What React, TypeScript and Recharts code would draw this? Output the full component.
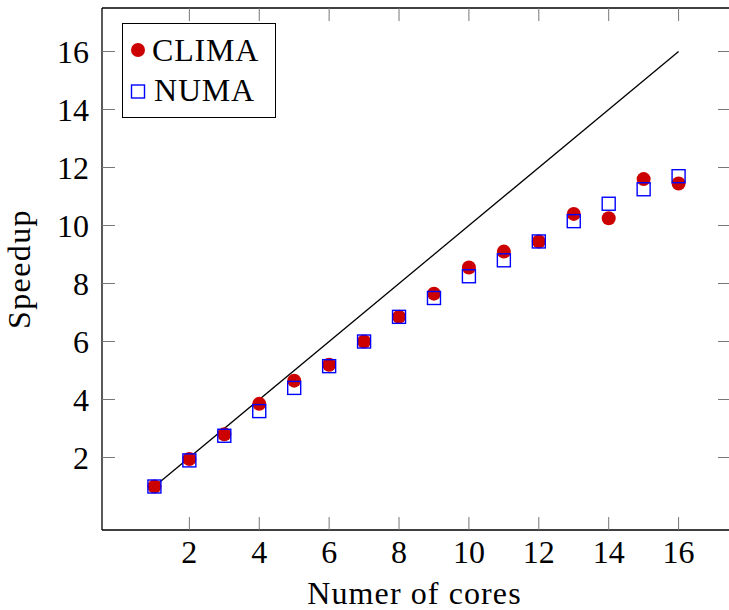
import { Label, Scatter, ScatterChart, XAxis, YAxis } from "recharts"

const cores = [1, 2, 3, 4, 5, 6, 7, 8, 9, 10, 11, 12, 13, 14, 15, 16]
const climaSpeedup = [1.0, 1.95, 2.8, 3.85, 4.65, 5.2, 6.0, 6.85, 7.65, 8.55, 9.1, 9.45, 10.4, 10.25, 11.6, 11.45]
const numaSpeedup = [1.0, 1.9, 2.75, 3.6, 4.4, 5.15, 6.0, 6.85, 7.5, 8.25, 8.8, 9.45, 10.15, 10.75, 11.25, 11.7]
const idealCores = [1, 16]
const idealSpeedup = [1, 16]
const xTicks = [2, 4, 6, 8, 10, 12, 14, 16]
const yTicks = [2, 4, 6, 8, 10, 12, 14, 16]

const clima = cores.map((c, i) => ({ x: c, y: climaSpeedup[i] }))
const numa = cores.map((c, i) => ({ x: c, y: numaSpeedup[i] }))
const ideal = idealCores.map((c, i) => ({ x: c, y: idealSpeedup[i] }))

const FONT = "'Liberation Serif', 'DejaVu Serif', serif"
const TICK_LEN = 13
const RED = "#cc0000"
const BLUE = "#0000ff"

const BottomTick = (props: any) => {
  const { x, y, payload } = props
  return (
    <g>
      <line x1={x} y1={y} x2={x} y2={y - TICK_LEN} stroke="#777" strokeWidth={1} />
      <text x={x} y={y + 33} textAnchor="middle" fontFamily={FONT} fontSize={32} fill="#000">
        {payload.value}
      </text>
    </g>
  )
}

const TopTick = (props: any) => {
  const { x, y } = props
  return <line x1={x} y1={y} x2={x} y2={y + TICK_LEN} stroke="#777" strokeWidth={1} />
}

const LeftTick = (props: any) => {
  const { x, y, payload } = props
  return (
    <g>
      <line x1={x} y1={y} x2={x + TICK_LEN} y2={y} stroke="#777" strokeWidth={1} />
      <text x={x - 13} y={y + 11} textAnchor="end" fontFamily={FONT} fontSize={32} fill="#000">
        {payload.value}
      </text>
    </g>
  )
}

const RightTick = (props: any) => {
  const { x, y } = props
  return <line x1={x} y1={y} x2={x - TICK_LEN} y2={y} stroke="#777" strokeWidth={1} />
}

const Circle = (props: any) => <circle cx={props.cx} cy={props.cy} r={7} fill={RED} />
const Square = (props: any) => (
  <rect x={props.cx - 6.5} y={props.cy - 6.5} width={13} height={13} fill="none" stroke={BLUE} strokeWidth={1.4} />
)

const LegendBox = () => (
  <div
    style={{
      position: "absolute",
      left: 122,
      top: 23,
      border: "1px solid #000",
      background: "#fff",
      width: 152,
      height: 93,
    }}
  >
    <svg width={152} height={93} style={{ display: "block" }}>
      <circle cx={15} cy={26} r={7} fill={RED} />
      <text x={29} y={37} fontFamily={FONT} fontSize={32} fill="#000" letterSpacing={0.8}>CLIMA</text>
      <rect x={8.5} y={61} width={13} height={13} fill="none" stroke={BLUE} strokeWidth={1.4} />
      <text x={31} y={77} fontFamily={FONT} fontSize={32} fill="#000" letterSpacing={0.8}>NUMA</text>
    </svg>
  </div>
)

export default function App() {
  return (
    <div
      style={{
        position: "absolute",
        left: 0,
        top: 0,
        width: 729,
        height: 610,
        overflow: "hidden",
        background: "#fff",
      }}
    >
      <ScatterChart width={732} height={610} margin={{ top: 7, right: 0, bottom: 0, left: 0 }}>
        <XAxis
          xAxisId="bottom"
          type="number"
          dataKey="x"
          domain={[-0.5, 17.5]}
          ticks={xTicks}
          height={80}
          tickSize={0}
          tickMargin={0}
          tickLine={false}
          axisLine={{ stroke: "#000", strokeWidth: 1.3 }}
          tick={<BottomTick />}
          allowDataOverflow
        >
          <Label
            content={(p: any) => (
              <text
                x={p.viewBox.x + p.viewBox.width / 2 - 2}
                y={p.viewBox.y + p.viewBox.height - 6}
                textAnchor="middle"
                fontFamily={FONT}
                fontSize={32}
                letterSpacing={1.1}
                fill="#000"
              >
                Numer of cores
              </text>
            )}
          />
        </XAxis>
        <XAxis
          xAxisId="top"
          orientation="top"
          type="number"
          dataKey="x"
          domain={[-0.5, 17.5]}
          ticks={xTicks}
          height={1}
          tickSize={0}
          tickMargin={0}
          tickLine={false}
          axisLine={{ stroke: "#000", strokeWidth: 1.3 }}
          tick={<TopTick />}
          allowDataOverflow
        />
        <YAxis
          yAxisId="left"
          type="number"
          dataKey="y"
          domain={[-0.5, 17.5]}
          ticks={yTicks}
          width={102}
          tickSize={0}
          tickMargin={0}
          tickLine={false}
          axisLine={{ stroke: "#000", strokeWidth: 1.3 }}
          tick={<LeftTick />}
          allowDataOverflow
        >
          <Label
            content={(p: any) => {
              const cx = 30
              const cy = p.viewBox.y + p.viewBox.height / 2
              return (
                <text
                  x={cx}
                  y={cy}
                  transform={`rotate(-90 ${cx} ${cy})`}
                  textAnchor="middle"
                  fontFamily={FONT}
                  fontSize={32}
                  letterSpacing={1.4}
                  fill="#000"
                >
                  Speedup
                </text>
              )
            }}
          />
        </YAxis>
        <YAxis
          yAxisId="right"
          orientation="right"
          type="number"
          dataKey="y"
          domain={[-0.5, 17.5]}
          ticks={yTicks}
          width={1}
          tickSize={0}
          tickMargin={0}
          tickLine={false}
          axisLine={{ stroke: "#000", strokeWidth: 1.3 }}
          tick={<RightTick />}
          allowDataOverflow
        />
        <Scatter
          name="ideal"
          data={ideal}
          xAxisId="bottom"
          yAxisId="left"
          line={{ stroke: "#000", strokeWidth: 1.3 }}
          shape={() => <g />}
          legendType="none"
          isAnimationActive={false}
        />
        <Scatter name="CLIMA" data={clima} xAxisId="bottom" yAxisId="left" shape={<Circle />} isAnimationActive={false} />
        <Scatter name="NUMA" data={numa} xAxisId="bottom" yAxisId="left" shape={<Square />} isAnimationActive={false} />
      </ScatterChart>
      <LegendBox />
    </div>
  )
}
